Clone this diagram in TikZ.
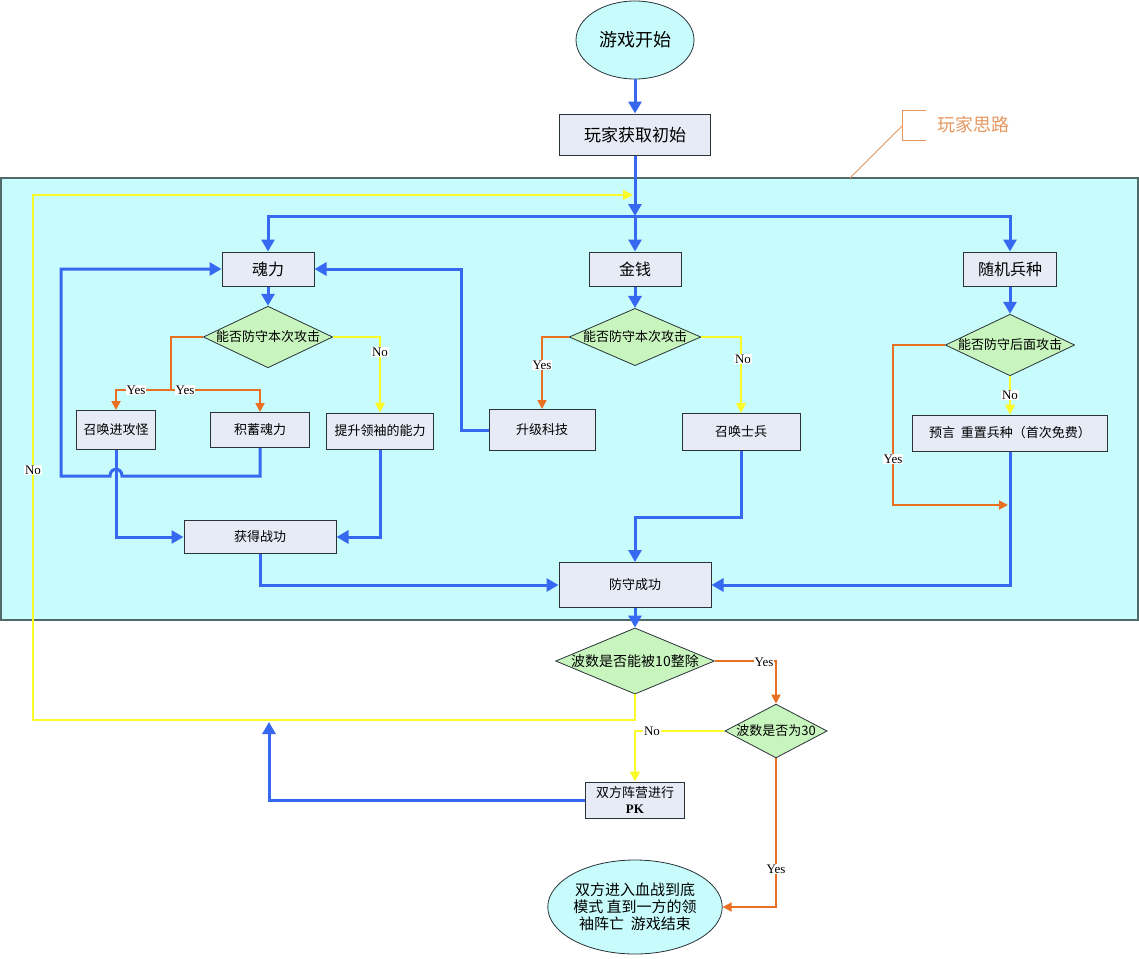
\documentclass[tikz,border=0pt]{standalone}
\usepackage{fontspec}
\setmainfont{Liberation Serif}
\newfontfamily\cjk{Noto Sans CJK SC}
\usetikzlibrary{shapes.geometric, arrows.meta}
\definecolor{flowblue}{RGB}{55,105,240}
\definecolor{flowora}{RGB}{232,112,32}
\definecolor{flowyel}{RGB}{250,250,40}
\definecolor{boxfill}{RGB}{230,235,246}
\definecolor{boxline}{RGB}{40,50,55}
\definecolor{askfill}{RGB}{200,244,190}
\definecolor{zonefill}{RGB}{200,252,252}
\definecolor{zoneline}{RGB}{80,105,105}
\definecolor{notecol}{RGB}{230,150,95}
\tikzstyle{blueflow} = [flowblue, line width=3, -{Triangle[length=12pt,width=13pt]}]
\tikzstyle{oraflow} = [flowora, line width=1.8, -{Triangle[length=9pt,width=9pt]}]
\tikzstyle{yelflow} = [flowyel, line width=1.8, -{Triangle[length=10pt,width=10pt]}]
\tikzstyle{box} = [rectangle, draw=boxline, fill=boxfill, line width=1, inner sep=2pt, align=center, font=\cjk\fontsize{13}{16}\selectfont]
\tikzstyle{ask} = [diamond, draw=boxline, fill=askfill, line width=0.8, inner sep=0pt, font=\cjk\fontsize{13}{15}\selectfont]
\tikzstyle{oval} = [ellipse, draw=boxline, fill=zonefill, line width=0.8, inner sep=0pt, align=center]
\tikzstyle{lbl} = [fill=white, inner sep=1pt, font=\fontsize{13}{13}\selectfont]

\begin{document}
\begin{tikzpicture}[x=1pt, y=-1pt]
		\useasboundingbox (0,0) rectangle (1139,958);
		
		% Zone
		\draw[zoneline, fill=zonefill, line width=1.2] (1,178) rectangle (1138,620);
		
		% Coordinates
		\coordinate (split) at (635,216);
		\coordinate (forkA) at (171,390);
		\coordinate (hopR) at (122,476);
		\coordinate (hopL) at (110,476);
		\coordinate (loopA) at (61,476);
		\coordinate (loopB) at (461,430);
		\coordinate (bendB) at (635,517);
		\coordinate (turnC) at (893,505);
		\coordinate (joinC) at (1008,505);
		\coordinate (backB) at (33,720);
		\coordinate (backT) at (33,195);
		\coordinate (backIn) at (633,195);
		\coordinate (backUp) at (269,722);
		
		% Nodes
		\node[oval, minimum width=118, minimum height=78, font=\cjk\fontsize{18}{20}\selectfont] (start) at (635,40) {游戏开始};
		\node[box, minimum width=151, minimum height=41, font=\cjk\fontsize{17}{19}\selectfont] (init) at (635,134.5) {玩家获取初始};
		%% top row
		\node[box, minimum width=92, minimum height=34, font=\cjk\fontsize{16}{18}\selectfont] (hunli) at (268,269) {魂力};
		\node[box, minimum width=92, minimum height=34, font=\cjk\fontsize{16}{18}\selectfont] (jinqian) at (635,269) {金钱};
		\node[box, minimum width=93, minimum height=34, font=\cjk\fontsize{16}{18}\selectfont] (bingzhong) at (1010,269) {随机兵种};
		%% questions
		\node[ask, aspect=2.1] (askA) at (268,337) {能否防守本次攻击};
		\node[ask, aspect=2.3] (askB) at (635,337) {能否防守本次攻击};
		\node[ask, aspect=2.1] (askC) at (1010,345) {能否防守后面攻击};
		%% actions
		\node[box, minimum width=79, minimum height=39] (zhaohuan) at (116,430) {召唤进攻怪};
		\node[box, minimum width=99, minimum height=35] (jixu) at (260,430) {积蓄魂力};
		\node[box, minimum width=107, minimum height=36] (tisheng) at (380,431) {提升领袖的能力};
		\node[box, minimum width=106, minimum height=41] (shengji) at (542,430) {升级科技};
		\node[box, minimum width=118, minimum height=37] (shibing) at (741,432) {召唤士兵};
		\node[box, minimum width=195, minimum height=36] (yuyan) at (1010,433) {预言\ \ 重置兵种（首次免费）};
		\node[box, minimum width=152, minimum height=33] (zhangong) at (260,537) {获得战功};
		\node[box, minimum width=152, minimum height=45] (fangshou) at (635,585) {防守成功};
		%% waves
		\node[ask, aspect=2.4, font=\cjk\fontsize{14}{16}\selectfont] (wave10) at (635,661) {波数是否能被10整除};
		\node[ask, aspect=1.9] (wave30) at (776,731) {波数是否为30};
		\node[box, minimum width=99, minimum height=36, font=\cjk\fontsize{13}{16}\selectfont] (pk) at (635,800) {双方阵营进行\\{\rmfamily\bfseries PK}};
		\node[oval, minimum width=142, minimum height=94, font=\cjk\fontsize{15}{17}\selectfont] (finale) at (635,907) {双方进入血战到底\\模式\ 直到一方的领\\袖阵亡\ \ 游戏结束};
		
		% Note
		\node[text=notecol, anchor=west, font=\cjk\fontsize{18}{20}\selectfont] (note) at (934,125) {玩家思路};
		\draw[notecol, line width=0.8] (926,110) -- (902,110) -- (902,140) -- (926,140);
		\draw[notecol, line width=0.8] (902,126) -- (850,178);
		
		% Connectors
		\draw[blueflow] (start) -- (init);
		\draw[blueflow] (init) -- (split);
		\draw[blueflow] (split) -- (jinqian);
		\draw[blueflow] (split) -| (hunli);
		\draw[blueflow] (split) -| (bingzhong);
		%% soul
		\draw[blueflow] (hunli) -- (askA);
		\draw[flowora, line width=1.8] (askA.west) -| (forkA);
		\draw[oraflow] (forkA) -| (zhaohuan);
		\draw[oraflow] (forkA) -| (jixu);
		\draw[yelflow] (askA.east) -| (tisheng);
		\draw[blueflow] (jixu.south) |- (hopR) .. controls +(0,-9) and +(0,-9) .. (hopL) -- (loopA) |- (hunli);
		\draw[blueflow] (zhaohuan) |- (zhangong);
		\draw[blueflow] (tisheng) |- (zhangong);
		\draw[blueflow] (zhangong) |- (fangshou);
		%% money
		\draw[blueflow] (jinqian) -- (askB);
		\draw[oraflow] (askB.west) -| (shengji);
		\draw[yelflow] (askB.east) -| (shibing);
		\draw[blueflow] (shengji.west) -- (loopB) |- (hunli);
		\draw[blueflow] (shibing) |- (bendB) -- (fangshou);
		%% random
		\draw[blueflow] (bingzhong) -- (askC);
		\draw[yelflow] (askC) -- (yuyan);
		\draw[blueflow] (yuyan) |- (fangshou);
		\draw[oraflow] (askC.west) -| (turnC) -- (joinC);
		%% waves
		\draw[blueflow] (fangshou) -- (wave10);
		\draw[oraflow] (wave10.east) -| (wave30);
		\draw[yelflow] (wave10.south) |- (backB) -- (backT) -- (backIn);
		\draw[yelflow] (wave30.west) -| (pk);
		\draw[blueflow] (pk.west) -| (backUp);
		\draw[oraflow] (wave30.south) |- (finale.east);
		
		% Labels
		\node[lbl] (yesA1) at (136,390) {Yes};
		\node[lbl] (yesA2) at (185,390) {Yes};
		\node[lbl] (noA) at (380,352) {No};
		\node[lbl] (yesB) at (542,365) {Yes};
		\node[lbl] (noB) at (743,359) {No};
		\node[lbl] (noC) at (1010,395) {No};
		\node[lbl] (yesC) at (893,459) {Yes};
		\node[lbl] (yesW) at (764,662) {Yes};
		\node[lbl] (noW) at (652,731) {No};
		\node[lbl] (yesF) at (776,869) {Yes};
		\node[lbl] (noL) at (33,470) {No};
	\end{tikzpicture}
\end{document}
